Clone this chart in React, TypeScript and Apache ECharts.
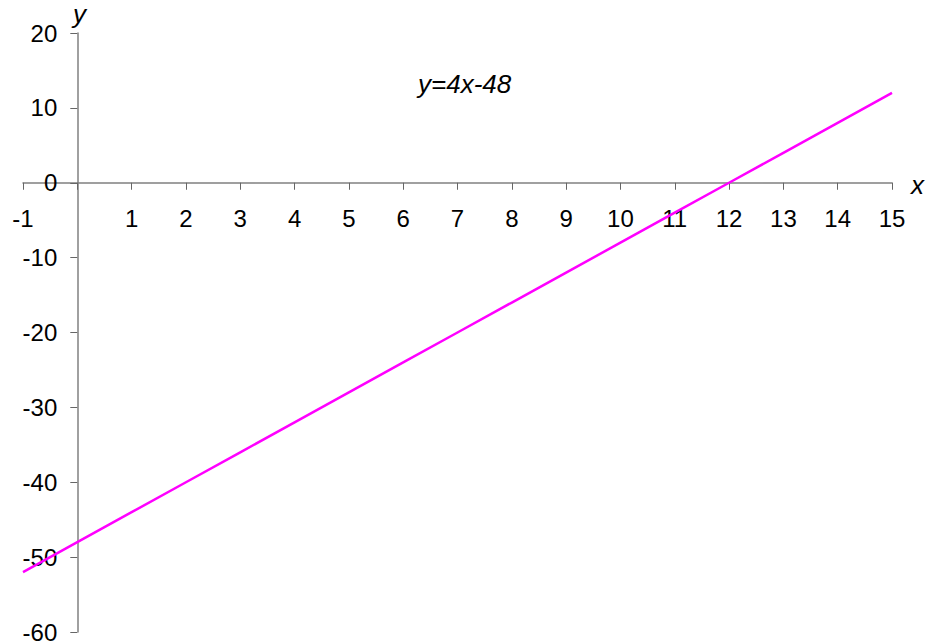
import React, { useEffect, useRef } from "react";
import * as echarts from "echarts";

const xValues = [-1, 0, 1, 2, 3, 4, 5, 6, 7, 8, 9, 10, 11, 12, 13, 14, 15];
const yValues = [-52, -48, -44, -40, -36, -32, -28, -24, -20, -16, -12, -8, -4, 0, 4, 8, 12];
const equationLabel = "y=4x-48";
const xName = "x";
const yName = "y";

export default function App() {
  const ref = useRef<HTMLDivElement>(null);
  useEffect(() => {
    document.body.style.margin = "0";
    if (!ref.current) return;
    const chart = echarts.init(ref.current, null, { renderer: "svg" });
    const font = "'Liberation Sans', Arial, sans-serif";
    const axisColor = "#808080";
    chart.setOption({
      animation: false,
      backgroundColor: "#ffffff",
      grid: { left: 23, right: 36, top: 33, bottom: 12, containLabel: false, outerBoundsMode: "none" },
      xAxis: {
        type: "value",
        min: -1,
        max: 15,
        interval: 1,
        position: "bottom",
        offset: -449.25,
        axisLine: { onZero: false, lineStyle: { color: axisColor, width: 1.5 } },
        axisTick: { show: true, inside: false, length: 7, lineStyle: { color: "#666", width: 1 } },
        axisLabel: {
          margin: 24,
          fontFamily: font,
          fontSize: 24,
          color: "#000",
          showMinLabel: true,
          showMaxLabel: true,
          formatter: (v: number) => (v === 0 ? "" : String(v)),
        },
        splitLine: { show: false },
      },
      yAxis: {
        type: "value",
        min: -60,
        max: 20,
        interval: 10,
        position: "left",
        offset: -54.3,
        axisLine: { onZero: false, lineStyle: { color: axisColor, width: 1.5 } },
        axisTick: { show: true, inside: false, length: 7, lineStyle: { color: "#666", width: 1 } },
        axisLabel: { margin: 20, fontFamily: font, fontSize: 24, color: "#000", showMinLabel: true, showMaxLabel: true },
        splitLine: { show: false },
      },
      graphic: [
        {
          type: "text",
          left: 73,
          top: 1,
          style: { text: yName, fontFamily: font, fontSize: 26, fontStyle: "italic", fill: "#000" },
        },
        {
          type: "text",
          left: 911,
          top: 172,
          style: { text: xName, fontFamily: font, fontSize: 26, fontStyle: "italic", fill: "#000" },
        },
        {
          type: "text",
          left: 418,
          top: 71,
          style: { text: equationLabel, fontFamily: font, fontSize: 26, fontStyle: "italic", fill: "#000" },
        },
      ],
      series: [
        {
          type: "line",
          data: xValues.map((x, i) => [x, yValues[i]]),
          showSymbol: false,
          symbol: "none",
          lineStyle: { color: "#ff00ff", width: 2.5 },
          z: 1,
        },
      ],
    });
    return () => chart.dispose();
  }, []);
  return <div ref={ref} style={{ width: 928, height: 644 }} />;
}
